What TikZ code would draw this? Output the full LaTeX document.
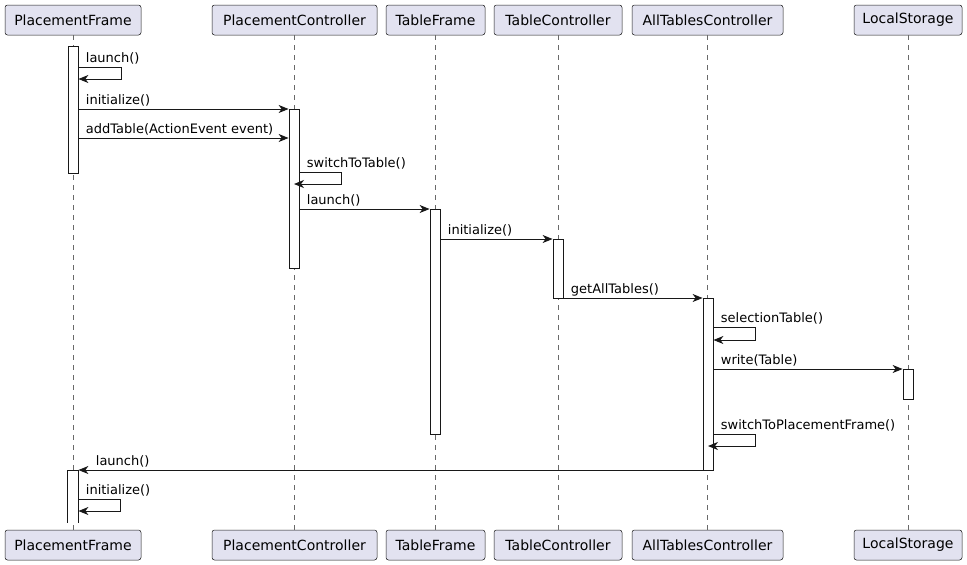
\documentclass[tikz,border=0pt]{standalone}
\usepackage{fontspec}
\setmainfont{DejaVu Sans}
\usetikzlibrary{positioning, arrows.meta, calc}

\definecolor{partfill}{HTML}{E2E2F0}
\definecolor{umlline}{HTML}{181818}

\begin{document}
\begin{tikzpicture}[
    x=1pt, y=-1pt,
    part/.style={rectangle, rounded corners=2.5pt, draw=umlline, line width=0.5pt, fill=partfill,
        minimum height=30pt, inner sep=0pt, font=\fontsize{14}{16}\selectfont},
    lifeline/.style={umlline!65, line width=0.5pt, dash pattern=on 5pt off 5pt},
    act/.style={rectangle, draw=umlline, line width=0.8pt, fill=white, minimum width=10pt, inner sep=0pt, anchor=north},
    msg/.style={-{Stealth[length=10pt, width=8pt, inset=3pt]}, umlline, line width=1pt},
    msglabel/.style={anchor=base west, inner sep=0pt, xshift=7pt, yshift=5pt, text=black,
        font=\fontsize{13}{15}\selectfont}
]
\useasboundingbox (0,0) rectangle (967,565);

% participants (top)
\node[part, minimum width=136pt] (pfTop) at (73,20) {PlacementFrame};
\node[part, minimum width=165pt] (pcTop) at (294.5,20) {PlacementController};
\node[part, minimum width=99pt] (tfTop) at (435.5,20) {TableFrame};
\node[part, minimum width=128pt] (tcTop) at (558,20) {TableController};
\node[part, minimum width=151pt] (atcTop) at (707.5,20) {AllTablesController};
\node[part, minimum width=108pt] (lsTop) at (908,20) {LocalStorage};

% participants (bottom)
\node[part, minimum width=136pt] (pfBot) at (73,545) {PlacementFrame};
\node[part, minimum width=165pt] (pcBot) at (294.5,545) {PlacementController};
\node[part, minimum width=99pt] (tfBot) at (435.5,545) {TableFrame};
\node[part, minimum width=128pt] (tcBot) at (558,545) {TableController};
\node[part, minimum width=151pt] (atcBot) at (707.5,545) {AllTablesController};
\node[part, minimum width=108pt] (lsBot) at (908,545) {LocalStorage};

% lifelines
\draw[lifeline] (pfTop) -- (pfBot);
\draw[lifeline] (pcTop) -- (pcBot);
\draw[lifeline] (tfTop) -- (tfBot);
\draw[lifeline] (tcTop) -- (tcBot);
\draw[lifeline] (atcTop) -- (atcBot);
\draw[lifeline] (lsTop) -- (lsBot);

% activations
\node[act, minimum height=127pt] (pfActA) at (73,46) {};
\node[act, minimum height=52pt, draw=none] (pfActB) at (73,470) {};
\draw[umlline, line width=0.8pt] (pfActB.south west) -- (pfActB.north west) -- (pfActB.north east) -- (pfActB.south east);
\node[act, minimum height=159pt] (pcAct) at (294,109) {};
\node[act, minimum height=225pt] (tfAct) at (435,209) {};
\node[act, minimum height=59pt] (tcAct) at (558,239) {};
\node[act, minimum height=172pt] (atcAct) at (708,298) {};
\node[act, minimum height=30pt] (lsAct) at (908,369) {};

% messages
\draw[msg] (pfActA.east |- 0,67) node[msglabel] {launch()} -- ++(43,0) -- ++(0,12) -- ++(-43,0);
\draw[msg] (pfActA.east |- pcAct.north) node[msglabel] {initialize()} -- (pcAct.north west);
\draw[msg] (pfActA.east |- 0,138) node[msglabel] {addTable(ActionEvent event)} -- (pcAct.west |- 0,138);
\draw[msg] (pcAct.east |- 0,172) node[msglabel] {switchToTable()} -- ++(42,0) -- ++(0,12) -- (pcAct.center |- 0,184);
\draw[msg] (pcAct.east |- tfAct.north) node[msglabel] {launch()} -- (tfAct.north west);
\draw[msg] (tfAct.east |- tcAct.north) node[msglabel] {initialize()} -- (tcAct.north west);
\draw[msg] (tcAct.east |- atcAct.north) node[msglabel] {getAllTables()} -- (atcAct.north west);
\draw[msg] (atcAct.east |- 0,327) node[msglabel] {selectionTable()} -- ++(42,0) -- ++(0,13) -- ++(-42,0);
\draw[msg] (atcAct.east |- lsAct.north) node[msglabel] {write(Table)} -- (lsAct.north west);
\draw[msg] (atcAct.east |- 0,434) node[msglabel] {switchToPlacementFrame()} -- ++(42,0) -- ++(0,12) -- (atcAct.center |- 0,446);
\draw[msg] (atcAct.west |- pfActB.north) -- (pfActB.north east) node[msglabel, xshift=10pt] {launch()};
\draw[msg] (pfActB.east |- 0,499) node[msglabel] {initialize()} -- ++(42,0) -- ++(0,12) -- ++(-42,0);

\end{tikzpicture}
\end{document}
